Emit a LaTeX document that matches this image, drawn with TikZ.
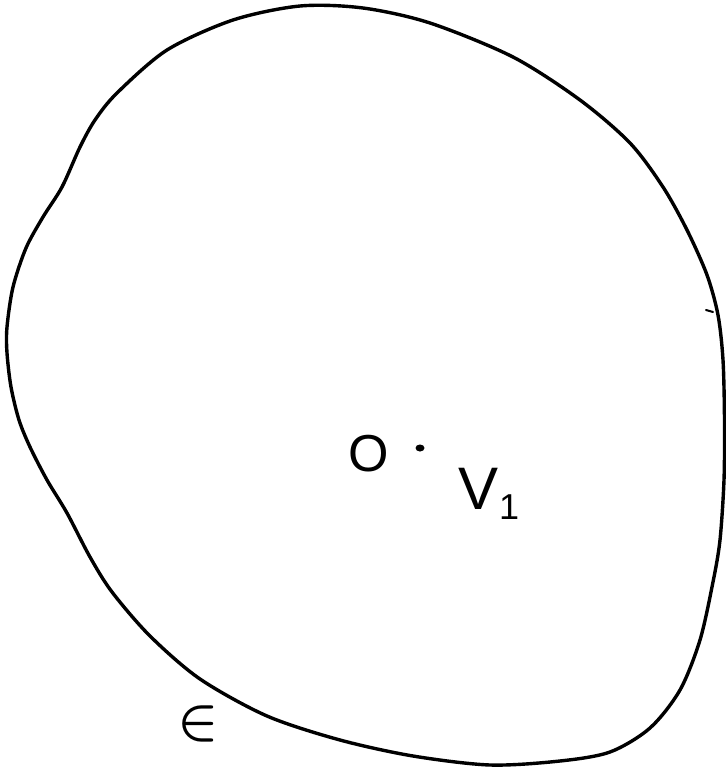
\documentclass[tikz,border=0pt]{standalone}
\usepackage{fontspec}
\usepackage{bm}
\newfontfamily\handfont{Liberation Sans}
\begin{document}
\begin{tikzpicture}[x=1pt,y=-1pt,
  outline/.style={line width=3.4pt,line join=round,line cap=round},
  lbl/.style={inner sep=0pt,font=\handfont\fontsize{52}{60}\selectfont},
  tickmark/.style={line width=2pt,line cap=round}]
\useasboundingbox (0,0) rectangle (726,769);
\fill[white] (0,0) rectangle (726,769);
\draw[outline] plot[smooth cycle,tension=0.5] coordinates {
 (62,187) (80,147) (95,120) (117,93) (167,50) (233,20) (300,6) (363,8)
 (430,23) (513,57) (580,100) (630,143) (663,187) (687,230) (707,275)
 (718,315) (723,360) (724.5,420) (724,480) (720,540) (713,582) (700,640)
 (680,690) (650,728) (610,752) (560,761) (490,765) (413,756) (340,740)
 (267,716) (200,679) (150,636) (112,592) (90,557) (67,513) (47,480)
 (30,447) (19,420) (11,387) (7,353) (7,327) (13,287) (26,248) (43,217)};
\coordinate (tr) at (713,312);
\draw[tickmark] (tr) -- ++(-7,-2);
\coordinate (tl) at (62,186);
\draw[tickmark] (tl) -- ++(3,-5);
\node[lbl] (O) at (369,454) {O};
\fill (420,448) ellipse (4.5 and 3.5);
\node[inner sep=0pt,font=\handfont\fontsize{60}{64}\selectfont] (V1) at (489,494)
  {V\raisebox{-10pt}{\fontsize{36}{36}\selectfont 1}};
\node[inner sep=0pt] (eps) at (198,724) {\scalebox{5.4}{$\bm{\in}$}};
\end{tikzpicture}
\end{document}
